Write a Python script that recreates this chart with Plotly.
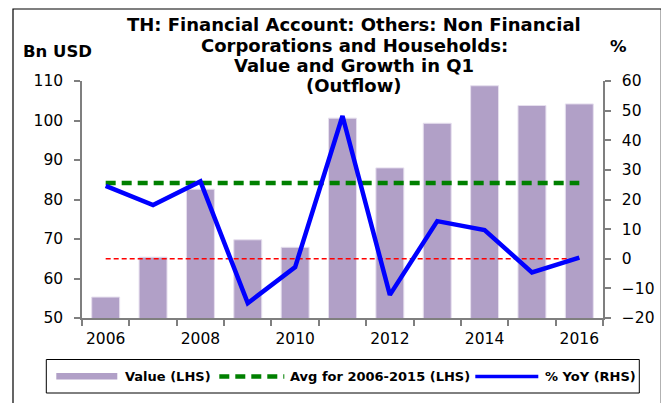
import plotly.graph_objects as go

years = [2006, 2007, 2008, 2009, 2010, 2011, 2012, 2013, 2014, 2015, 2016]
value_bn_usd = [55.3, 65.4, 82.6, 69.8, 67.9, 100.6, 88.0, 99.3, 108.8, 103.8, 104.2]
yoy_pct = [24.6, 18.1, 26.1, -15.0, -2.8, 48.2, -12.2, 12.7, 9.7, -4.6, 0.4]
avg_value = sum(value_bn_usd[:10]) / 10
zero_line = [0] * len(years)
x_ticks = [2006, 2008, 2010, 2012, 2014, 2016]
title_lines = ["TH: Financial Account: Others: Non Financial",
               "Corporations and Households:",
               "Value and Growth in Q1",
               "(Outflow)"]
legend_names = ["Value (LHS)", "Avg for 2006-2015 (LHS)", "% YoY (RHS)"]

# page has an 8px body margin; the figure is placed at (8, 8)
OFF = 8
W, H = 661, 395
L, R, T, B = 73.7, 66.3, 73, 85
pw = W - L - R
ph = H - T - B

def px_x(p):
    return (p - OFF - L) / pw

def px_y(p):
    return (H - B - (p - OFF)) / ph

BAR_COLOR = "#B1A0C7"
GREEN = "#008000"
BLUE = "#0000FF"
FONT = "DejaVu Sans"

fig = go.Figure()
fig.add_trace(go.Bar(
    x=years, y=value_bn_usd, name=legend_names[0], showlegend=False,
    marker=dict(color=BAR_COLOR, line=dict(color="#E6DFEE", width=1)),
    yaxis="y",
))
fig.add_trace(go.Scatter(
    x=years, y=[avg_value] * len(years), name=legend_names[1], showlegend=False,
    mode="lines", line=dict(color=GREEN, width=4.5, dash="10px,6px"), yaxis="y",
))
fig.add_trace(go.Scatter(
    x=years, y=zero_line, mode="lines", showlegend=False,
    line=dict(color="#FF0000", width=1.5, dash="5px,3px"), yaxis="y2",
))
fig.add_trace(go.Scatter(
    x=years, y=yoy_pct, name=legend_names[2], showlegend=False, mode="lines",
    line=dict(color=BLUE, width=4.5), yaxis="y2",
))

tickfont = dict(family=FONT, size=15.5, color="#000000")
AX = "#7F7F7F"

annotations = []
title_y = [24.5, 45, 65.5, 86]
for txt, yy in zip(title_lines, title_y):
    annotations.append(dict(
        text="<b>" + txt + "</b>", x=px_x(354), y=px_y(yy), xref="paper", yref="paper",
        showarrow=False, xanchor="center", yanchor="middle",
        font=dict(family=FONT, size=18, color="#000000")))
annotations.append(dict(text="<b>Bn USD</b>", x=px_x(57), y=px_y(51), xref="paper", yref="paper",
                        showarrow=False, xanchor="center", yanchor="middle",
                        font=dict(family=FONT, size=16.5, color="#000000")))
annotations.append(dict(text="<b>%</b>", x=px_x(618), y=px_y(46), xref="paper", yref="paper",
                        showarrow=False, xanchor="center", yanchor="middle",
                        font=dict(family=FONT, size=16.5, color="#000000")))
leg_text_x = [123, 288, 543]
for txt, xx in zip(legend_names, leg_text_x):
    annotations.append(dict(text="<b>" + txt + "</b>", x=px_x(xx), y=px_y(376.5), xref="paper", yref="paper",
                            showarrow=False, xanchor="left", yanchor="middle",
                            font=dict(family=FONT, size=13, color="#000000")))

shapes = [
    # outer frame (bottom edge lies past the picture, as in the reference)
    dict(type="rect", xref="paper", yref="paper",
         x0=px_x(12.7), x1=px_x(661), y0=px_y(410), y1=px_y(9),
         line=dict(color="#000000", width=1.2), fillcolor="rgba(0,0,0,0)", layer="below"),
    # legend box
    dict(type="rect", xref="paper", yref="paper",
         x0=px_x(46), x1=px_x(639), y0=px_y(393), y1=px_y(359.5),
         line=dict(color="#000000", width=1), fillcolor="rgba(0,0,0,0)"),
    # legend symbols
    dict(type="rect", xref="paper", yref="paper",
         x0=px_x(56), x1=px_x(117), y0=px_y(379.5), y1=px_y(373),
         line=dict(width=0), fillcolor=BAR_COLOR),
    dict(type="line", xref="paper", yref="paper",
         x0=px_x(219), x1=px_x(284), y0=px_y(376.5), y1=px_y(376.5),
         line=dict(color=GREEN, width=4.5, dash="10px,6px")),
    dict(type="line", xref="paper", yref="paper",
         x0=px_x(475), x1=px_x(538), y0=px_y(376.5), y1=px_y(376.5),
         line=dict(color=BLUE, width=3.5)),
]

fig.update_layout(
    width=W, height=H,
    margin=dict(l=L, r=R, t=T, b=B, autoexpand=False),
    paper_bgcolor="white", plot_bgcolor="white",
    bargap=0.41,
    showlegend=False,
    xaxis=dict(
        range=[2005.5, 2016.5], tickvals=x_ticks, ticks="outside", ticklen=0,
        showgrid=False, showline=True, linecolor=AX, linewidth=1.5, zeroline=False,
        tickfont=tickfont, ticklabelstandoff=6,
        minor=dict(ticks="outside", tick0=2005.5, dtick=1, ticklen=6, tickcolor=AX,
                   tickwidth=1.5, showgrid=False),
    ),
    yaxis=dict(
        range=[50, 110], dtick=10, showgrid=False, zeroline=False,
        showline=True, linecolor=AX, linewidth=1.5,
        ticks="outside", ticklen=6, tickwidth=1.5, tickcolor=AX, tickfont=tickfont,
        ticklabelstandoff=8,
    ),
    yaxis2=dict(
        range=[-20, 60], dtick=10, overlaying="y", side="right",
        showgrid=False, zeroline=False,
        showline=True, linecolor=AX, linewidth=1.5,
        ticks="outside", ticklen=6, tickwidth=1.5, tickcolor=AX, tickfont=tickfont,
        ticklabelstandoff=8,
    ),
    annotations=annotations,
    shapes=shapes,
)

fig.write_html("out.html")
